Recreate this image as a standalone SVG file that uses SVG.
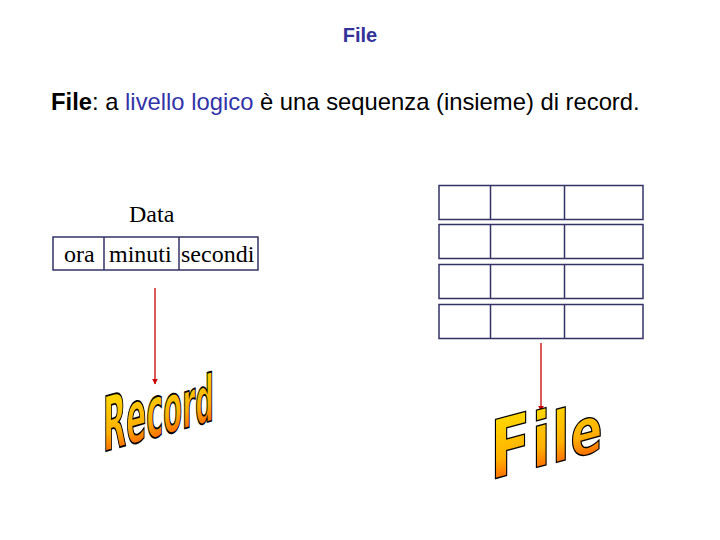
<svg xmlns="http://www.w3.org/2000/svg" width="720" height="540" viewBox="0 0 720 540">
<style>
.cell{fill:none;stroke:#333366;stroke-width:1.5}
.sans{font-family:"Liberation Sans",Arial,sans-serif}
.serif{font-family:"Liberation Serif","Times New Roman",serif;font-size:24px;fill:#000}
.arrow{stroke:#cc0000;stroke-width:1.3;fill:none}
.art{font-family:"Liberation Sans Narrow","DejaVu Sans Condensed","Liberation Sans",sans-serif;font-weight:bold;fill:url(#g);stroke:#000;stroke-width:1}
</style>
<defs>
<linearGradient id="g" x1="0" y1="0" x2="0" y2="1">
<stop offset="0" stop-color="#ffe600"/>
<stop offset="0.6" stop-color="#ffb000"/>
<stop offset="1" stop-color="#ff3300"/>
</linearGradient>
<marker id="ah" viewBox="0 0 10 10" refX="9" refY="5" markerWidth="6" markerHeight="6" orient="auto" markerUnits="userSpaceOnUse">
<path d="M0,0 L10,5 L0,10 z" fill="#cc0000"/>
</marker>
</defs>
<rect width="720" height="540" fill="#fff"/>
<text x="360" y="42" text-anchor="middle" class="sans" font-size="20" font-weight="bold" fill="#333399">File</text>
<text x="51" y="110" class="sans" font-size="23.8" fill="#000"><tspan font-weight="bold">File</tspan>: a <tspan fill="#3333aa">livello logico</tspan> è una sequenza (insieme) di record.</text>
<g id="record">
<text x="129" y="222" class="serif">Data</text>
<rect x="53" y="237" width="205" height="33" class="cell"/>
<line x1="104" y1="237" x2="104" y2="270" class="cell"/>
<line x1="179" y1="237" x2="179" y2="270" class="cell"/>
<text x="64" y="262" class="serif">ora</text>
<text x="109" y="262" class="serif">minuti</text>
<text x="181" y="262" class="serif">secondi</text>
</g>
<g id="file">
<g class="cell">
<rect x="439" y="185.5" width="204" height="34"/>
<rect x="439" y="224.5" width="204" height="34"/>
<rect x="439" y="264.5" width="204" height="34"/>
<rect x="439" y="304.5" width="204" height="34"/>
<line x1="490.5" y1="185.5" x2="490.5" y2="219.5"/>
<line x1="564.5" y1="185.5" x2="564.5" y2="219.5"/>
<line x1="490.5" y1="224.5" x2="490.5" y2="258.5"/>
<line x1="564.5" y1="224.5" x2="564.5" y2="258.5"/>
<line x1="490.5" y1="264.5" x2="490.5" y2="298.5"/>
<line x1="564.5" y1="264.5" x2="564.5" y2="298.5"/>
<line x1="490.5" y1="304.5" x2="490.5" y2="338.5"/>
<line x1="564.5" y1="304.5" x2="564.5" y2="338.5"/>
</g>
</g>
<g id="connectors">
<line x1="155" y1="288" x2="155" y2="384" class="arrow" marker-end="url(#ah)"/>
<line x1="541" y1="343" x2="541" y2="411" class="arrow" marker-end="url(#ah)"/>
</g>
<g id="label-record">
<text transform="translate(103,452) skewY(-16) scale(0.8,1.8)" class="art" font-size="40" vector-effect="non-scaling-stroke"><tspan font-size="42">R</tspan><tspan font-size="41">e</tspan><tspan font-size="40">c</tspan><tspan font-size="38">o</tspan><tspan font-size="37">r</tspan><tspan font-size="36">d</tspan></text>
</g>
<g id="label-file">
<text transform="translate(490,480) skewY(-15) scale(1.14,1.4)" class="art" letter-spacing="1" vector-effect="non-scaling-stroke"><tspan font-size="58">F</tspan><tspan font-size="54">i</tspan><tspan font-size="50">l</tspan><tspan font-size="46">e</tspan></text>
</g>
</svg>
